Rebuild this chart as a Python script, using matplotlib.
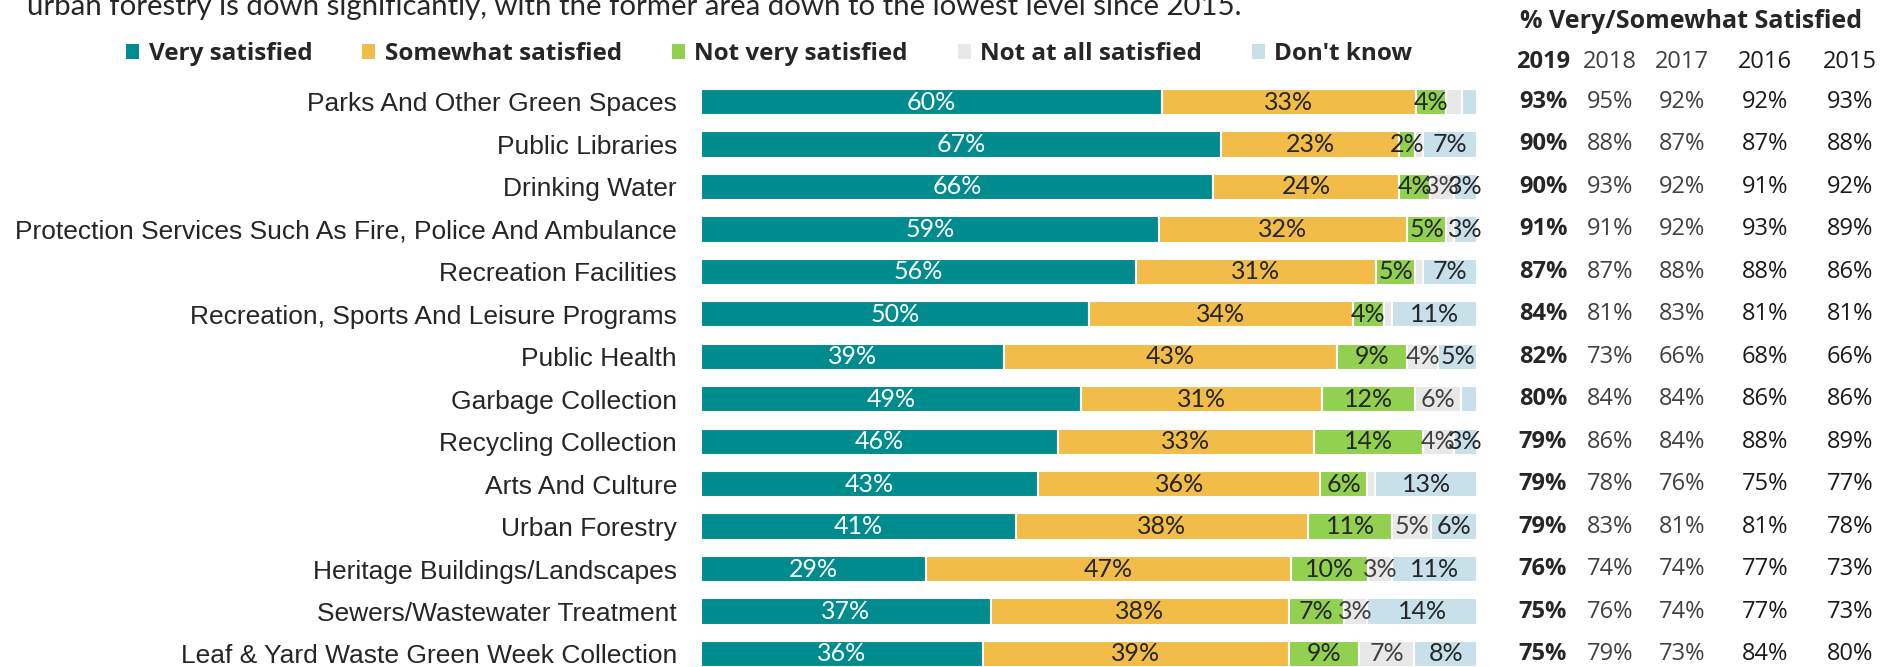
import numpy as np
import matplotlib.pyplot as plt
from matplotlib.patches import Patch
from matplotlib.transforms import blended_transform_factory

services = [
    "Parks And Other Green Spaces",
    "Public Libraries",
    "Drinking Water",
    "Protection Services Such As Fire, Police And Ambulance",
    "Recreation Facilities",
    "Recreation, Sports And Leisure Programs",
    "Public Health",
    "Garbage Collection",
    "Recycling Collection",
    "Arts And Culture",
    "Urban Forestry",
    "Heritage Buildings/Landscapes",
    "Sewers/Wastewater Treatment",
    "Leaf & Yard Waste Green Week Collection",
]
series_names = ["Very satisfied", "Somewhat satisfied", "Not very satisfied",
                "Not at all satisfied", "Don't know"]

very = [60, 67, 66, 59, 56, 50, 39, 49, 46, 43, 41, 29, 37, 36]
somewhat = [33, 23, 24, 32, 31, 34, 43, 31, 33, 36, 38, 47, 38, 39]
not_very = [4, 2, 4, 5, 5, 4, 9, 12, 14, 6, 11, 10, 7, 9]
not_at_all = [2, 1, 3, 1, 1, 1, 4, 6, 4, 1, 5, 3, 3, 7]
dont_know = [2, 7, 3, 3, 7, 11, 5, 2, 3, 13, 6, 11, 14, 8]

years = ["2019", "2018", "2017", "2016", "2015"]
sat_2019 = [93, 90, 90, 91, 87, 84, 82, 80, 79, 79, 79, 76, 75, 75]
sat_2018 = [95, 88, 93, 91, 87, 81, 73, 84, 86, 78, 83, 74, 76, 79]
sat_2017 = [92, 87, 92, 92, 88, 83, 66, 84, 84, 76, 81, 74, 74, 73]
sat_2016 = [92, 87, 91, 93, 88, 81, 68, 86, 88, 75, 81, 77, 77, 84]
sat_2015 = [93, 88, 92, 89, 86, 81, 66, 86, 89, 77, 78, 73, 73, 80]

title = ("urban forestry is down significantly, with the former area down "
         "to the lowest level since 2015.")

colors = ["#008B8F", "#F1BD48", "#92D050", "#E8E8E8", "#C7E0E9"]
label_colors = ["white", "#262626", "#262626", "#404040", "#262626"]
min_label = [0, 0, 2, 3, 3]   # smaller segments are left unlabelled

W, H = 1885, 667
fig = plt.figure(figsize=(W / 100, H / 100), dpi=100)

n = len(services)
pitch = 42.46
top_px = 102 - pitch / 2
bot_px = top_px + pitch * n
ax = fig.add_axes([701 / W, 1 - bot_px / H, 776 / W, (bot_px - top_px) / H])

data = np.array([very, somewhat, not_very, not_at_all, dont_know], dtype=float)
shares = data / data.sum(axis=0) * 100   # 100% stacked
ypos = np.arange(n)
left = np.zeros(n)
for k in range(len(series_names)):
    bars = ax.barh(ypos, shares[k], left=left, height=0.62, color=colors[k],
                   edgecolor="white", linewidth=1.5)
    labels = [f"{int(v)}%" if v >= min_label[k] else "" for v in data[k]]
    ax.bar_label(bars, labels=labels, label_type="center",
                 color=label_colors[k], fontsize=18, family="Lato")
    left += shares[k]

ax.set_xlim(0, 100)
ax.set_ylim(n - 0.5, -0.5)
ax.set_xticks([])
ax.set_yticks(ypos, services)
ax.tick_params(axis="y", length=0, pad=17.3, labelsize=19, labelcolor="#262626")
for lab in ax.get_yticklabels():
    lab.set_family("Liberation Sans")
for s in ax.spines.values():
    s.set_visible(False)

# satisfaction table on the right
trans = blended_transform_factory(fig.transFigure, ax.transData)
col_x = [1543, 1610, 1682, 1765, 1850]
col_colors = ["#262626", "#404040", "#404040", "#1a1a1a", "#1a1a1a"]
table = [sat_2019, sat_2018, sat_2017, sat_2016, sat_2015]
for j, (col, x) in enumerate(zip(table, col_x)):
    weight = "bold" if j == 0 else "normal"
    for i, v in enumerate(col):
        ax.text(x / W, i, f"{v}%", transform=trans, ha="center", va="center",
                fontsize=17, family="Open Sans", fontweight=weight,
                color=col_colors[j])
    fig.text(x / W, 1 - 62 / H, years[j], ha="center", va="center",
             fontsize=17, family="Open Sans", fontweight=weight,
             color=col_colors[j])
fig.text(1691 / W, 1 - 22 / H, "% Very/Somewhat Satisfied", ha="center",
         va="center", fontsize=18, family="Open Sans", fontweight="bold",
         color="#262626")

handles = [Patch(facecolor=c) for c in colors]
fig.legend(handles, series_names, loc="center left",
           bbox_to_anchor=(126 / W, 1 - 54 / H), ncol=5, frameon=False,
           prop=dict(family="Open Sans", weight="bold", size=17.5),
           handlelength=0.55, handleheight=0.55, handletextpad=0.38,
           columnspacing=2.05, borderpad=0, borderaxespad=0,
           labelcolor="#262626")

fig.text(27 / W, 1 - 15 / H, title, ha="left", va="baseline", fontsize=21.2,
         family="Lato", color="#262626")

fig.savefig("out.png", dpi=100)
